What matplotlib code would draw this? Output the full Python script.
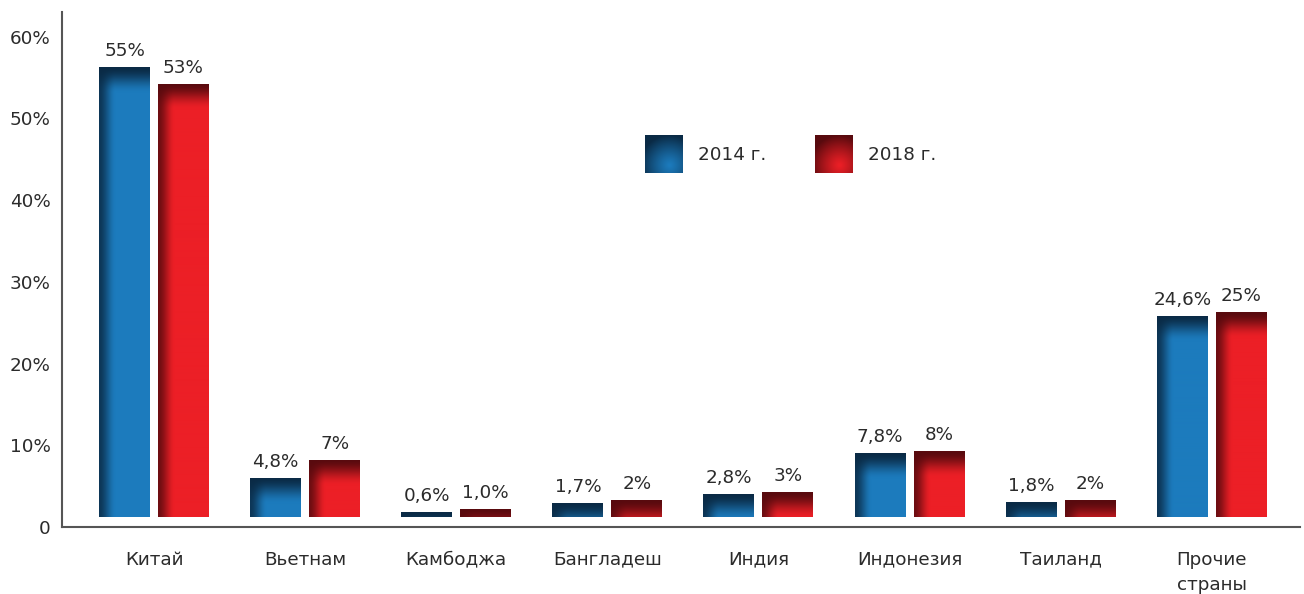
import numpy as np
import matplotlib
matplotlib.use('Agg')
import matplotlib.pyplot as plt

categories = ['Китай', 'Вьетнам', 'Камбоджа', 'Бангладеш', 'Индия', 'Индонезия', 'Таиланд', 'Прочие\nстраны']
values_2014 = [55, 4.8, 0.6, 1.7, 2.8, 7.8, 1.8, 24.6]
values_2018 = [53, 7, 1.0, 2, 3, 8, 2, 25]
labels_2014 = ['55%', '4,8%', '0,6%', '1,7%', '2,8%', '7,8%', '1,8%', '24,6%']
labels_2018 = ['53%', '7%', '1,0%', '2%', '3%', '8%', '2%', '25%']
series_names = ['2014 г.', '2018 г.']
yticks = [0, 10, 20, 30, 40, 50, 60]
ytick_labels = ['0', '10%', '20%', '30%', '40%', '50%', '60%']

BLUE_MAIN = np.array([0x1c, 0x7b, 0xbd]) / 255
BLUE_DARK = np.array([0x0a, 0x2a, 0x45]) / 255
RED_MAIN = np.array([0xec, 0x1f, 0x26]) / 255
RED_DARK = np.array([0x58, 0x0a, 0x0e]) / 255
TEXT = '#2b2b2b'
FONT = 'DejaVu Sans'
FS = 13.2
plt.rcParams['font.family'] = [FONT]

W, H, DPI = 1304, 594, 100
fig = plt.figure(figsize=(W / DPI, H / DPI), dpi=DPI)
ax = fig.add_axes([62 / W, 67 / H, (1300 - 62) / W, (527 - 12) / H])
XLIM = (-0.609, 7.584)
YLIM = (0, 63)
ax.set_xlim(*XLIM)
ax.set_ylim(*YLIM)

x = np.arange(len(categories))
bw = 0.3375
off = 0.195
base = 1.25


def smooth(t):
    t = np.clip(t, 0, 1)
    return t * t * (3 - 2 * t)


def bar_gradient(hpx, wpx, main, dark, top_fade=26.0, left_fade=17.0):
    hpx = max(int(round(hpx)), 1)
    wpx = max(int(round(wpx)), 1)
    yy = (np.arange(hpx)[:, None] + 0.5) * np.ones((1, wpx))
    xx = np.ones((hpx, 1)) * (np.arange(wpx)[None, :] + 0.5)
    dt = 1 - smooth(yy / top_fade)
    dl = 1 - smooth(xx / left_fade)
    d = 1 - (1 - dt) * (1 - 0.85 * dl)
    img = main[None, None, :] * (1 - d[..., None]) + dark[None, None, :] * d[..., None]
    return img


def draw_bars(xpos, vals, main, dark):
    bars = ax.bar(xpos, vals, bw, bottom=base, color=main, edgecolor='none', zorder=2)
    for b in bars:
        x0, y0, w, h = b.get_x(), b.get_y(), b.get_width(), b.get_height()
        p0 = ax.transData.transform((x0, y0))
        p1 = ax.transData.transform((x0 + w, y0 + h))
        img = bar_gradient(p1[1] - p0[1], p1[0] - p0[0], main, dark)
        im = ax.imshow(img, extent=(x0, x0 + w, y0, y0 + h), origin='upper',
                       aspect='auto', interpolation='bilinear', zorder=3)
        im.set_clip_path(b)
    return bars


b1 = draw_bars(x - off, values_2014, BLUE_MAIN, BLUE_DARK)
b2 = draw_bars(x + off, values_2018, RED_MAIN, RED_DARK)
ax.set_xlim(*XLIM)
ax.set_ylim(*YLIM)

for bars, labs in ((b1, labels_2014), (b2, labels_2018)):
    for b, lab in zip(bars, labs):
        ax.annotate(lab, (b.get_x() + b.get_width() / 2, b.get_y() + b.get_height()),
                    xytext=(0, 5), textcoords='offset points', ha='center', va='bottom',
                    fontsize=FS, color=TEXT)

ax.set_xticks(x)
ax.set_xticklabels(categories, fontsize=FS, color=TEXT, linespacing=1.55, va='top')
ax.set_yticks(yticks)
ax.set_yticklabels(ytick_labels, fontsize=FS, color=TEXT)
ax.tick_params(axis='x', length=0, pad=17)
ax.tick_params(axis='y', length=0, pad=8)
for s in ('top', 'right'):
    ax.spines[s].set_visible(False)
for s in ('left', 'bottom'):
    ax.spines[s].set_color('#555555')
    ax.spines[s].set_linewidth(1.5)


def legend_square(px, main, dark):
    lax = fig.add_axes([px / W, (594 - 173) / H, 38 / W, 38 / H])
    n = 60
    yy, xx = np.mgrid[0:n, 0:n] / (n - 1)
    dist = np.sqrt((xx - 0.65) ** 2 + (yy - 0.8) ** 2)
    d = np.clip(dist / 0.8, 0, 1) ** 1.2
    img = main[None, None, :] * (1 - d[..., None]) + dark[None, None, :] * d[..., None]
    lax.imshow(img, origin='upper', aspect='auto', interpolation='bilinear')
    lax.axis('off')


legend_square(645, BLUE_MAIN, BLUE_DARK)
legend_square(815, RED_MAIN, RED_DARK)
fig.text(698 / W, (594 - 155) / H, series_names[0], fontsize=FS, color=TEXT, va='center', ha='left')
fig.text(868 / W, (594 - 155) / H, series_names[1], fontsize=FS, color=TEXT, va='center', ha='left')

fig.savefig('out.png', dpi=DPI, facecolor='white')
